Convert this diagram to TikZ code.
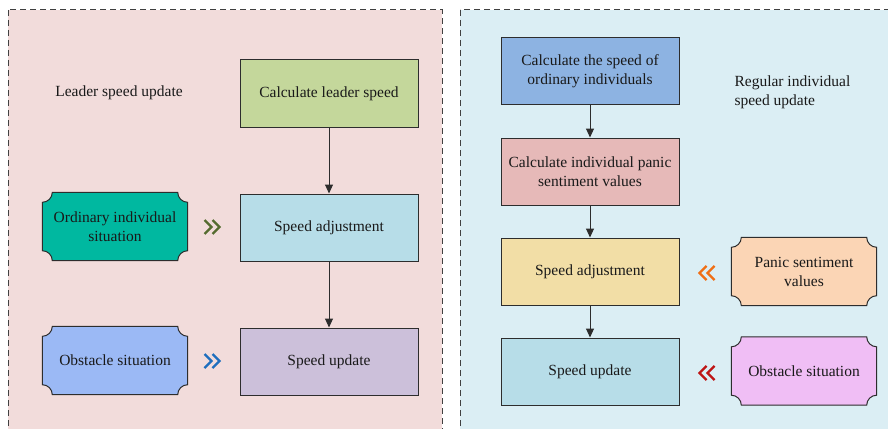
\documentclass[tikz,border=0pt]{standalone}
\usepackage{fontspec}
\setmainfont{Liberation Serif}
\usetikzlibrary{arrows.meta,positioning,backgrounds}
\definecolor{panelL}{RGB}{242,220,219}
\definecolor{panelR}{RGB}{219,238,244}
\definecolor{dashline}{RGB}{64,64,64}
\definecolor{boxline}{RGB}{45,45,45}
\definecolor{txt}{RGB}{25,25,25}
\definecolor{leadfill}{RGB}{196,215,155}
\definecolor{adjLfill}{RGB}{183,221,232}
\definecolor{updLfill}{RGB}{204,192,218}
\definecolor{ordfill}{RGB}{0,184,160}
\definecolor{obsLfill}{RGB}{155,185,245}
\definecolor{calcfill}{RGB}{141,179,226}
\definecolor{panicfill}{RGB}{230,185,184}
\definecolor{adjRfill}{RGB}{242,222,166}
\definecolor{updRfill}{RGB}{183,221,232}
\definecolor{valfill}{RGB}{251,213,181}
\definecolor{obsRfill}{RGB}{240,190,245}
\definecolor{chevG}{RGB}{85,107,47}
\definecolor{chevB}{RGB}{30,110,190}
\definecolor{chevO}{RGB}{240,110,20}
\definecolor{chevR}{RGB}{190,20,20}
\tikzset{
  txtfont/.style={font=\fontsize{15.5}{19}\selectfont, text=txt},
  box/.style={draw=boxline, line width=1pt, minimum width=178pt, minimum height=67pt, align=center, txtfont},
  ticket/.style={minimum width=145pt, minimum height=68pt, align=center, txtfont},
  flow/.style={draw=boxline, line width=1pt, -{Triangle[length=9pt,width=8pt]}},
  panel/.style={draw=dashline, line width=1pt, dash pattern=on 6pt off 4pt},
}
\begin{document}
\begin{tikzpicture}[x=1pt,y=-1pt]
    \useasboundingbox (0,0) rectangle (888,428);
    \clip (0,0) rectangle (888,428);
    % left column
    \node[box, fill=leadfill] (lead) at (329,93.5) {Calculate leader speed};
    \node[box, fill=adjLfill] (adjL) at (329,227.5) {Speed adjustment};
    \node[box, fill=updLfill] (updL) at (329,361.5) {Speed update};
    \node[ticket] (ordsit) at (115,226.5) {Ordinary individual\\situation};
    \node[ticket] (obsL) at (115,360.5) {Obstacle situation};
    \node[txtfont] (leadtitle) at (119,93) {Leader speed update};
    % right column
    \node[box, fill=calcfill] (calc) at (590,71) {Calculate the speed of\\ordinary individuals};
    \node[box, fill=panicfill] (panic) at (590,171.5) {Calculate individual panic\\sentiment values};
    \node[box, fill=adjRfill] (adjR) at (590,271.5) {Speed adjustment};
    \node[box, fill=updRfill] (updR) at (590,371.5) {Speed update};
    \node[ticket] (panval) at (804,271.5) {Panic sentiment\\values};
    \node[ticket] (obsR) at (804,371) {Obstacle situation};
    \node[txtfont, anchor=west, align=left] (regtitle) at (731,92) {Regular individual\\speed update};
    \draw[flow] (lead) -- (adjL);
    \draw[flow] (adjL) -- (updL);
    \draw[flow] (calc) -- (panic);
    \draw[flow] (panic) -- (adjR);
    \draw[flow] (adjR) -- (updR);
    % chevrons
    \foreach \x/\y/\d/\c in {212/227/1/chevG,212/361/1/chevB,707/273/-1/chevO,707/373/-1/chevR}
        \foreach \o in {-4,4}
        \draw[\c, line width=2.4pt] ({\x+(\o)-3.5*(\d)},{\y-7}) -- ({\x+(\o)+3.5*(\d)},\y) -- ({\x+(\o)-3.5*(\d)},{\y+7});
    \begin{scope}[on background layer]
        \fill[panelL] (8,10) rectangle (442,440);
        \draw[panel] (8,10) rectangle (442,440);
        \fill[panelR] (460,10) rectangle (900,440);
        \draw[panel] (460,10) rectangle (900,440);
        \foreach \n/\c in {ordsit/ordfill,obsL/obsLfill,panval/valfill,obsR/obsRfill}
        \draw[fill=\c, draw=boxline, line width=1pt]
            ([xshift=10pt]\n.north west) -- ([xshift=-10pt]\n.north east)
            arc[start angle=180, end angle=270, radius=10pt]
            -- ([yshift=10pt]\n.south east)
            arc[start angle=90, end angle=180, radius=10pt]
            -- ([xshift=10pt]\n.south west)
            arc[start angle=0, end angle=90, radius=10pt]
            -- ([yshift=-10pt]\n.north west)
            arc[start angle=-90, end angle=0, radius=10pt] -- cycle;
    \end{scope}
\end{tikzpicture}
\end{document}
